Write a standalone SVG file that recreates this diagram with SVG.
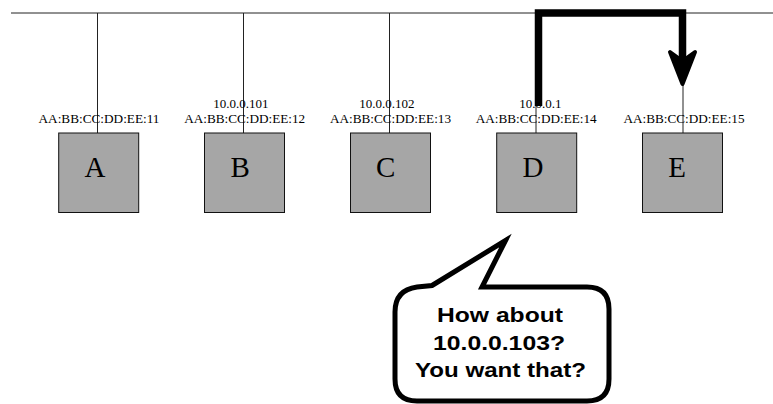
<svg xmlns="http://www.w3.org/2000/svg" width="773" height="404" viewBox="0 0 773 404">
  <style>
    .wire { stroke: #222; stroke-width: 1; fill: none; }
    .box { fill: #a6a6a6; stroke: #111; stroke-width: 1; }
    .name { font-family: "Liberation Serif", "Times New Roman", serif; font-size: 29px; fill: #000; }
    .lbl { font-family: "Liberation Serif", "Times New Roman", serif; font-size: 13px; fill: #000; }
    .say { font-family: "Liberation Sans", Arial, Helvetica, sans-serif; font-size: 21px; font-weight: bold; fill: #000; text-anchor: middle; }
  </style>

  <!-- bus and drop lines -->
  <g id="connectors">
    <line class="wire" x1="11" y1="13" x2="773" y2="13"/>
    <line class="wire" x1="97.5" y1="13" x2="97.5" y2="133"/>
    <line class="wire" x1="243.5" y1="13" x2="243.5" y2="133"/>
    <line class="wire" x1="389.5" y1="13" x2="389.5" y2="133"/>
    <line class="wire" x1="536" y1="13" x2="536" y2="133"/>
    <line class="wire" x1="683" y1="13" x2="683" y2="133"/>
    <!-- bold redirect arrow from D to E -->
    <path d="M538.5,106 V13 H682.5 V62" fill="none" stroke="#000" stroke-width="7.5" stroke-linejoin="miter"/>
    <path d="M682.5,84 L670,52 L682.5,61 L695,52 Z" fill="#000" stroke="#000" stroke-width="4" stroke-linejoin="round"/>
  </g>

  <g id="node-a">
    <text class="lbl" x="99" y="123.3" text-anchor="middle" textLength="121" lengthAdjust="spacingAndGlyphs">AA:BB:CC:DD:EE:11</text>
    <rect class="box" x="58.7" y="133" width="80" height="79.5"/>
    <text class="name" x="84.5" y="176.7">A</text>
  </g>

  <g id="node-b">
    <text class="lbl" x="213.3" y="108.3">10.0.0.101</text>
    <text class="lbl" x="244.7" y="123.3" text-anchor="middle" textLength="121" lengthAdjust="spacingAndGlyphs">AA:BB:CC:DD:EE:12</text>
    <rect class="box" x="204.5" y="133" width="80" height="79.5"/>
    <text class="name" x="230.5" y="176.7">B</text>
  </g>

  <g id="node-c">
    <text class="lbl" x="359.3" y="108.3">10.0.0.102</text>
    <text class="lbl" x="390.5" y="123.3" text-anchor="middle" textLength="121" lengthAdjust="spacingAndGlyphs">AA:BB:CC:DD:EE:13</text>
    <rect class="box" x="350.5" y="133" width="80" height="79.5"/>
    <text class="name" x="376" y="176.7">C</text>
  </g>

  <g id="node-d">
    <text class="lbl" x="519.3" y="108.3">10.0.0.1</text>
    <text class="lbl" x="536.2" y="123.3" text-anchor="middle" textLength="121" lengthAdjust="spacingAndGlyphs">AA:BB:CC:DD:EE:14</text>
    <rect class="box" x="496.7" y="133" width="80" height="79.5"/>
    <text class="name" x="522.5" y="176.7">D</text>
  </g>

  <g id="node-e">
    <text class="lbl" x="684" y="123.3" text-anchor="middle" textLength="121" lengthAdjust="spacingAndGlyphs">AA:BB:CC:DD:EE:15</text>
    <rect class="box" x="642.5" y="133" width="80" height="79.5"/>
    <text class="name" x="668.3" y="176.7">E</text>
  </g>

  <!-- speech bubble -->
  <g id="bubble">
    <path d="M432,285.5 L505.5,240.5 L482,287 H587 Q609,287 609,309 V379 Q609,401 587,401 H417 Q395,401 395,379 V312 Q395,290 417,287 Z"
          fill="#fff" stroke="#000" stroke-width="5" stroke-linejoin="miter"/>
    <text class="say" x="500" y="321.5" textLength="126" lengthAdjust="spacingAndGlyphs">How about</text>
    <text class="say" x="499" y="349.5" textLength="132" lengthAdjust="spacingAndGlyphs">10.0.0.103?</text>
    <text class="say" x="500.5" y="377" textLength="171" lengthAdjust="spacingAndGlyphs">You want that?</text>
  </g>
</svg>
